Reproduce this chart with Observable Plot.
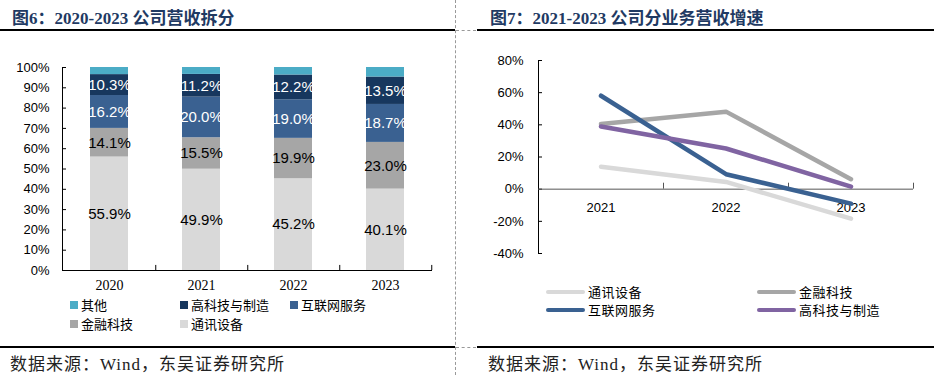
<!DOCTYPE html>
<html>
<head>
<meta charset="utf-8">
<script src="https://cdn.jsdelivr.net/npm/d3@7"></script>
<script src="https://cdn.jsdelivr.net/npm/@observablehq/plot@0.6"></script>
<style>
  html, body { margin: 0; padding: 0; background: #fff; }
  #page { position: relative; width: 934px; height: 375px; overflow: hidden; background: #fff; }
  .title { position: absolute; top: 4px; font-family: "Liberation Serif", "Noto Sans CJK SC", serif; font-weight: bold; font-size: 17px; color: #1f3a63; white-space: nowrap; }
  .hline { position: absolute; height: 0; border-top: 2px solid #000; }
  .footer { position: absolute; top: 350px; font-family: "Liberation Serif", "Noto Sans CJK SC", serif; font-size: 17px; letter-spacing: 1px; color: #222; white-space: nowrap; }
  .vsep { position: absolute; left: 455px; top: 0; height: 375px; border-left: 1px dashed #999; }
  .hsep { position: absolute; left: 456px; width: 20px; border-top: 1px dashed #999; }
  .chart { position: absolute; }
  .leg { position: absolute; font-family: "Noto Sans CJK SC", serif; font-size: 13px; line-height: 15px; color: #000; white-space: nowrap; display: flex; align-items: center; height: 15px; }
  .sq { width: 8px; height: 8px; margin-right: 3px; }
  .ln { width: 39px; height: 4px; border-radius: 2px; margin-right: 3px; }
</style>
</head>
<body>
<div id="page">
  <div class="title" style="left:12px;">图6：2020-2023 公司营收拆分</div>
  <div class="title" style="left:490px;">图7：2021-2023 公司分业务营收增速</div>
  <div class="hline" style="left:0; width:455px; top:29px;"></div>
  <div class="hline" style="left:477px; width:457px; top:29px;"></div>
  <div class="hsep" style="top:30px;"></div>
  <div class="vsep"></div>
  <div class="hline" style="left:0; width:455px; top:346px;"></div>
  <div class="hline" style="left:477px; width:457px; top:346px;"></div>
  <div class="hsep" style="top:347px;"></div>
  <div class="footer" style="left:10px;">数据来源：Wind，东吴证券研究所</div>
  <div class="footer" style="left:488px;">数据来源：Wind，东吴证券研究所</div>
  <div id="left" class="chart" style="left:0; top:50px;"></div>
  <div id="right" class="chart" style="left:478px; top:45px;"></div>
  <div id="legL"></div>
  <div id="legR"></div>
</div>
<script>
// ---------- Data: left chart (revenue share, %) ----------
const years = ["2020", "2021", "2022", "2023"];
const segments = ["通讯设备", "金融科技", "互联网服务", "高科技与制造", "其他"];
const shareTelecom = [55.9, 49.9, 45.2, 40.1];
const shareFintech = [14.1, 15.5, 19.9, 23.0];
const shareInternet = [16.2, 20.0, 19.0, 18.7];
const shareHitech = [10.3, 11.2, 12.2, 13.5];
const shareOther = [3.5, 3.4, 3.7, 4.7];
const shareTicks = [0, 10, 20, 30, 40, 50, 60, 70, 80, 90, 100];
const segmentColors = ["#d9d9d9", "#a6a6a6", "#3a6191", "#17375e", "#4bacc6"];
const labelColors = ["#000", "#000", "#fff", "#fff", "#fff"];
const legendLeftOrder = ["其他", "高科技与制造", "互联网服务", "金融科技", "通讯设备"];

// ---------- Data: right chart (growth, %) ----------
const growthYears = [2021, 2022, 2023];
const growthSeries = ["通讯设备", "金融科技", "互联网服务", "高科技与制造"];
const growthTelecom = [14.0, 4.5, -18.3];
const growthFintech = [40.5, 48.2, 6.2];
const growthInternet = [58.1, 9.3, -9.0];
const growthHitech = [39.0, 25.3, 1.6];
const growthTicks = [-40, -20, 0, 20, 40, 60, 80];
const growthColors = ["#d9d9d9", "#a6a6a6", "#3a6191", "#8064a2"];

// ---------- Build tables ----------
const shareArrays = [shareTelecom, shareFintech, shareInternet, shareHitech, shareOther];
const shareRows = [];
years.forEach((y, i) => segments.forEach((s, j) => shareRows.push({year: y, series: s, value: shareArrays[j][i], label: j < 4 ? shareArrays[j][i].toFixed(1) + "%" : ""})));

const growthArrays = [growthTelecom, growthFintech, growthInternet, growthHitech];
const growthRows = [];
growthSeries.forEach((s, j) => growthYears.forEach((y, i) => growthRows.push({year: y, series: s, value: growthArrays[j][i]})));

const pct = d => d + "%";

// ---------- Left chart ----------
const LW = 455, LML = 62, LMR = 23;
const left = Plot.plot({
  width: LW, height: 250,
  marginLeft: LML, marginRight: LMR, marginTop: 17, marginBottom: 30,
  style: {fontFamily: "'Liberation Sans', Arial, sans-serif", fontSize: "13px", color: "#000", background: "transparent", overflow: "visible"},
  x: {domain: years, paddingInner: 0.59, paddingOuter: 0.295, label: null},
  y: {domain: [0, 100], label: null},
  color: {domain: segments, range: segmentColors},
  marks: [
    Plot.barY(shareRows, {x: "year", y: "value", z: "series", fill: "series", order: segments}),
    Plot.text(shareRows, Plot.stackY({x: "year", y: "value", z: "series", order: segments, text: "label",
      fill: d => labelColors[segments.indexOf(d.series)], fontSize: 15, fontFamily: "'Liberation Sans', Arial, sans-serif"})),
    Plot.axisY(shareTicks, {tickFormat: pct, tickSize: 0, tickPadding: 13, fontSize: 13}),
    Plot.tickY(shareTicks, {y: d => d, stroke: "#000", insetRight: LW - LML - LMR - 4}),
    Plot.axisX({tickSize: 0, tickPadding: 10, fontSize: 14, fontFamily: "'Liberation Serif', 'Times New Roman', serif"}),
    Plot.ruleX(years, {x: d => d, y1: 0, y2: 2.5, dx: 46.25, stroke: "#000"}),
    Plot.ruleY([0], {stroke: "#000"}),
    Plot.frame({anchor: "left", stroke: "#000"})
  ]
});
document.getElementById("left").appendChild(left);

// ---------- Right chart ----------
const RW = 456, RML = 60, RMR = 21;
const right = Plot.plot({
  width: RW, height: 225,
  marginLeft: RML, marginRight: RMR, marginTop: 15, marginBottom: 17,
  style: {fontFamily: "'Liberation Sans', Arial, sans-serif", fontSize: "13px", color: "#000", background: "transparent", overflow: "visible"},
  x: {domain: [growthYears[0] - 0.5, growthYears[growthYears.length - 1] + 0.5], label: null, axis: null},
  y: {domain: [growthTicks[0], growthTicks[growthTicks.length - 1]], label: null},
  color: {domain: growthSeries, range: growthColors},
  marks: [
    Plot.axisY(growthTicks, {tickFormat: pct, tickSize: 0, tickPadding: 15, fontSize: 13}),
    Plot.tickY(growthTicks, {y: d => d, stroke: "#000", insetRight: RW - RML - RMR - 4}),
    Plot.ruleX([growthYears[0] - 0.5], {stroke: "#000"}),
    Plot.ruleY([0], {stroke: "#555"}),
    Plot.ruleX(growthYears, {x: d => d + 0.5, y1: 0, y2: 3.7, stroke: "#555"}),
    Plot.text(growthYears, {x: d => d, y: 0, dy: 19, text: d => String(d), fontSize: 13}),
    Plot.lineY(growthRows, {x: "year", y: "value", z: "series", stroke: "series", strokeWidth: 4.5, strokeLinecap: "round", strokeLinejoin: "round"})
  ]
});
document.getElementById("right").appendChild(right);

// ---------- Legends ----------
const legL = document.getElementById("legL");
const legLPos = [[70, 297], [180, 297], [290, 297], [70, 316], [180, 316]];
legendLeftOrder.forEach((s, i) => {
  const d = document.createElement("div");
  d.className = "leg";
  d.style.left = legLPos[i][0] + "px";
  d.style.top = legLPos[i][1] + "px";
  d.innerHTML = `<span class="sq" style="background:${segmentColors[segments.indexOf(s)]}"></span>${s}`;
  legL.appendChild(d);
});
const legR = document.getElementById("legR");
const legRPos = [[546, 284], [757, 284], [546, 302], [757, 302]];
growthSeries.forEach((s, i) => {
  const d = document.createElement("div");
  d.className = "leg";
  d.style.left = legRPos[i][0] + "px";
  d.style.top = legRPos[i][1] + "px";
  d.style.letterSpacing = "0.5px";
  d.innerHTML = `<span class="ln" style="background:${growthColors[i]}"></span>${s}`;
  legR.appendChild(d);
});
</script>
</body>
</html>
